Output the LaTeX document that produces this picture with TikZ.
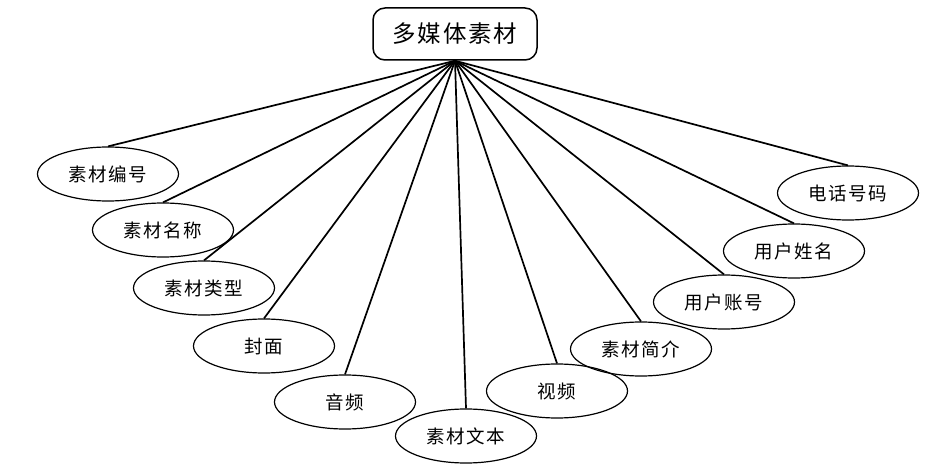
\documentclass[tikz,border=0pt]{standalone}
\usepackage{fontspec}
\setmainfont{Noto Sans CJK SC}[LetterSpace=8]
\usepackage{tikz}
\usetikzlibrary{shapes}
\usetikzlibrary{positioning}

\begin{document}
\begin{tikzpicture}[x=1pt,y=-1pt,
		attr/.style={draw,ellipse,line width=1.2pt,minimum width=141pt,minimum height=54pt,inner sep=0pt,font=\fontsize{18.5}{20}\selectfont},
		entity/.style={draw,rounded corners=12pt,line width=1.5pt,minimum width=164pt,minimum height=52pt,inner sep=0pt,font=\fontsize{23.5}{26}\selectfont},
		link/.style={line width=1.7pt}]
		\useasboundingbox (0,0) rectangle (952,470);
		\node[entity] (top) at (455,34) {多媒体素材};
		\node[attr] (1) at (108,174) {素材编号};
		\node[attr] (2) at (163,230) {素材名称};
		\node[attr] (3) at (204,288) {素材类型};
		\node[attr] (4) at (264,346) {封面};
		\node[attr] (5) at (345,402) {音频};
		\node[attr] (6) at (466,436) {素材文本};
		\node[attr] (7) at (557,391) {视频};
		\node[attr] (8) at (641,349) {素材简介};
		\node[attr] (9) at (724,302) {用户账号};
		\node[attr] (10) at (794,251) {用户姓名};
		\node[attr] (11) at (848,193) {电话号码};
		\foreach \i in {1,...,11}
			\draw[link] (top.south) to (\i.north);
\end{tikzpicture}
\end{document}
